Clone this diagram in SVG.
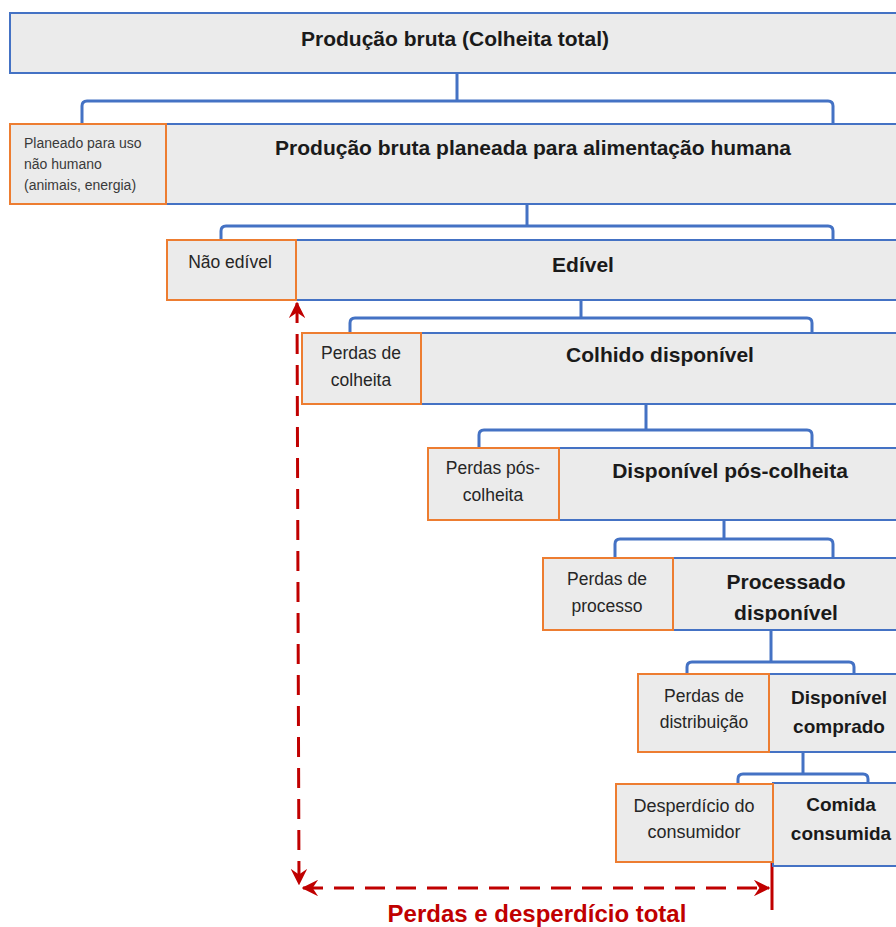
<svg xmlns="http://www.w3.org/2000/svg" width="896" height="927" viewBox="0 0 896 927">
<style>
.main{fill:#ebebeb;stroke:#4472c4;stroke-width:2}
.loss{fill:#ebebeb;stroke:#ed7d31;stroke-width:2}
.t{font-family:"Liberation Sans",Arial,sans-serif;fill:#1a1a1a;text-anchor:middle}
.b{font-weight:bold;font-size:21px}
.b19{font-weight:bold;font-size:19px}
.s{font-size:17.5px;fill:#262626}
.br{fill:none;stroke:#4472c4;stroke-width:3;stroke-linejoin:round}
.red{fill:none;stroke:#c00000;stroke-width:3;stroke-dasharray:20 11}
</style>
<defs>
<marker id="ah" viewBox="0 0 12 12" refX="11" refY="6" markerWidth="5.5" markerHeight="5.5" markerUnits="strokeWidth" orient="auto-start-reverse">
<path d="M0,0 L12,6 L0,12 L4,6 Z" fill="#c00000"/>
</marker>
<clipPath id="clipProc"><rect x="673" y="558" width="230" height="64"/></clipPath>
</defs>
<rect width="896" height="927" fill="#ffffff"/>

<g id="connectors">
<path class="br" d="M457,66 V101 M82,123 V106 Q82,101 87,101 H828 Q833,101 833,106 V123"/>
<path class="br" d="M527,204 V226 M221,240 V231 Q221,226 226,226 H828 Q833,226 833,231 V240"/>
<path class="br" d="M581,295 V318 M350,333 V323 Q350,318 355,318 H807 Q812,318 812,323 V333"/>
<path class="br" d="M646,404 V430 M479,448 V435 Q479,430 484,430 H807 Q812,430 812,435 V448"/>
<path class="br" d="M724,514 V539 M615,558 V544 Q615,539 620,539 H828 Q833,539 833,544 V558"/>
<path class="br" d="M771,630 V662 M687,674 V667 Q687,662 692,662 H849 Q854,662 854,667 V674"/>
<path class="br" d="M803,751 V774 M738,783 V779 Q738,774 743,774 H863 Q868,774 868,779 V783"/>
<path class="red" d="M297,303 L299,884" marker-start="url(#ah)" marker-end="url(#ah)"/>
<path class="red" d="M303,888 H769" marker-start="url(#ah)" marker-end="url(#ah)"/>
<line x1="772" y1="840" x2="772" y2="910" stroke="#c00000" stroke-width="3"/>
</g>

<g id="n-producao-bruta">
<rect class="main" x="10" y="13" width="900" height="60"/>
<text class="t b" x="455" y="46">Produção bruta (Colheita total)</text>
</g>

<g id="n-planeada">
<rect class="main" x="166" y="124" width="740" height="80"/>
<text class="t b" x="533" y="155">Produção bruta planeada para alimentação humana</text>
</g>
<g id="n-nao-humano">
<rect class="loss" x="10" y="124" width="156" height="80"/>
<text class="t" style="font-size:14px;fill:#3a3a3a;text-anchor:start" x="24"><tspan x="24" y="148">Planeado para uso</tspan><tspan x="24" y="169">não humano</tspan><tspan x="24" y="190">(animais, energia)</tspan></text>
</g>

<g id="n-edivel">
<rect class="main" x="296" y="240" width="610" height="60"/>
<text class="t b" x="583" y="272">Edível</text>
</g>
<g id="n-nao-edivel">
<rect class="loss" x="167" y="240" width="129" height="60"/>
<text class="t s" x="230" y="268">Não edível</text>
</g>

<g id="n-colhido">
<rect class="main" x="421" y="333" width="490" height="71"/>
<text class="t b" x="660" y="362">Colhido disponível</text>
</g>
<g id="n-perdas-colheita">
<rect class="loss" x="302" y="333" width="119" height="71"/>
<text class="t s"><tspan x="361" y="359">Perdas de</tspan><tspan x="361" y="386">colheita</tspan></text>
</g>

<g id="n-pos-colheita">
<rect class="main" x="559" y="448" width="350" height="72"/>
<text class="t b" x="730" y="478">Disponível pós-colheita</text>
</g>
<g id="n-perdas-pos-colheita">
<rect class="loss" x="428" y="448" width="131" height="72"/>
<text class="t s"><tspan x="493" y="474">Perdas pós-</tspan><tspan x="493" y="501">colheita</tspan></text>
</g>

<g id="n-processado">
<rect class="main" x="673" y="558" width="240" height="72"/>
<text class="t b" clip-path="url(#clipProc)"><tspan x="786" y="589">Processado</tspan><tspan x="786" y="620">disponível</tspan></text>
</g>
<g id="n-perdas-processo">
<rect class="loss" x="543" y="558" width="130" height="72"/>
<text class="t s"><tspan x="607" y="585">Perdas de</tspan><tspan x="607" y="612">processo</tspan></text>
</g>

<g id="n-comprado">
<rect class="main" x="769" y="674" width="140" height="78"/>
<text class="t b19"><tspan x="839" y="704">Disponível</tspan><tspan x="839" y="733">comprado</tspan></text>
</g>
<g id="n-perdas-distribuicao">
<rect class="loss" x="638" y="674" width="131" height="78"/>
<text class="t s"><tspan x="704" y="702">Perdas de</tspan><tspan x="704" y="728">distribuição</tspan></text>
</g>

<g id="n-consumida">
<rect class="main" x="773" y="783" width="140" height="83"/>
<text class="t b19"><tspan x="841" y="811">Comida</tspan><tspan x="841" y="840">consumida</tspan></text>
</g>
<g id="n-desperdicio-consumidor">
<rect class="loss" x="616" y="784" width="157" height="78"/>
<text class="t s" style="font-size:18px"><tspan x="694" y="812">Desperdício do</tspan><tspan x="694" y="838">consumidor</tspan></text>
</g>

<g id="total-label">
<text class="t" style="font-weight:bold;font-size:24px;fill:#c00000" x="537" y="922">Perdas e desperdício total</text>
</g>
</svg>
